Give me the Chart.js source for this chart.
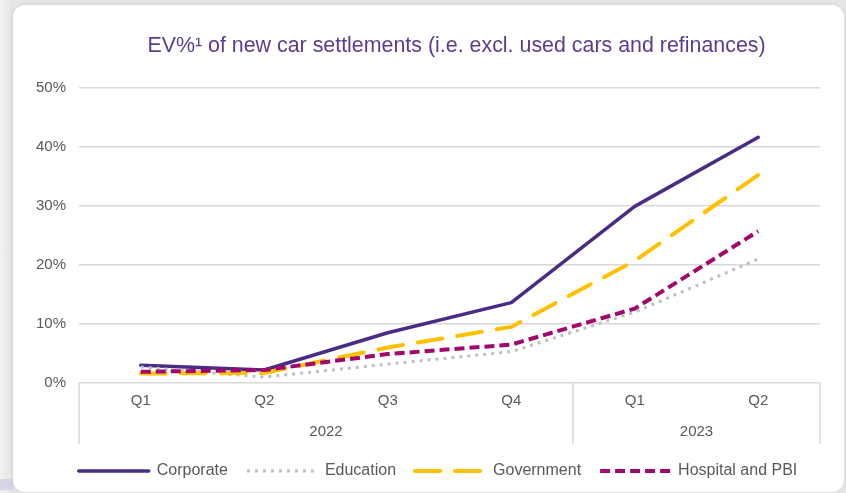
<!DOCTYPE html>
<html>
<head>
<meta charset="utf-8">
<script src="https://cdn.jsdelivr.net/npm/chart.js@4.4.1/dist/chart.umd.min.js"></script>
<style>
  html, body { margin: 0; padding: 0; }
  body { width: 846px; height: 493px; position: relative; overflow: hidden; background: #e6e6e6; }
  #strip { position: absolute; left: 0; top: 0; width: 14px; height: 493px; background: linear-gradient(to right, #f2f2f2, #e2e2e2); }
  #patch { position: absolute; left: 0; top: 479px; width: 13px; height: 11px; background: #d9d3e7; }
  #card { position: absolute; left: 13px; top: 5px; width: 831px; height: 487px; border-radius: 12px; background: #ffffff; box-shadow: 0 0 4px rgba(0,0,0,0.10); }
  #c { position: absolute; left: 0; top: 0; }
</style>
</head>
<body>
<div id="strip"></div>
<div id="patch"></div>
<div id="card"></div>
<canvas id="c" width="846" height="493"></canvas>
<script>
const quarters = ['Q1', 'Q2', 'Q3', 'Q4', 'Q1', 'Q2'];
const years = ['2022', '2022', '2022', '2022', '2023', '2023'];
const corporate = [3.0, 2.2, 8.5, 13.6, 29.9, 41.6];
const education = [2.7, 1.0, 3.2, 5.3, 12.0, 21.0];
const government = [1.6, 1.7, 6.0, 9.5, 20.7, 35.2];
const hospital = [1.9, 2.2, 4.9, 6.5, 12.6, 25.7];
const yMin = 0, yMax = 50, yStep = 10;

const FONT = '"Liberation Sans", Arial, sans-serif';
const TICK = '#595959';
const GRID = '#d9d9d9';

const yearGroups = {
  id: 'yearGroups',
  afterLayout(chart) {
    if (chart.titleBlock) { chart.titleBlock.left += 7; chart.titleBlock.right += 7; }
  },
  afterDraw(chart) {
    const x = chart.scales.x;
    const area = chart.chartArea;
    const ctx = chart.ctx;
    const half = (x.getPixelForValue(1) - x.getPixelForValue(0)) / 2;
    const top = area.bottom;
    const bottom = area.bottom + 61;
    ctx.save();
    ctx.strokeStyle = GRID;
    ctx.lineWidth = 1.5;
    ctx.fillStyle = TICK;
    ctx.font = '15px ' + FONT;
    ctx.textAlign = 'center';
    ctx.textBaseline = 'middle';
    let start = 0;
    const vline = (px) => { ctx.beginPath(); ctx.moveTo(px, top); ctx.lineTo(px, bottom); ctx.stroke(); };
    vline(x.getPixelForValue(0) - half);
    for (let i = 1; i <= years.length; i++) {
      if (i === years.length || years[i] !== years[start]) {
        const l = x.getPixelForValue(start) - half;
        const r = x.getPixelForValue(i - 1) + half;
        vline(r);
        ctx.fillText(years[start], (l + r) / 2, area.bottom + 49);
        start = i;
      }
    }
    ctx.restore();
  }
};

const datasets = [
  { label: 'Corporate', data: corporate, borderColor: '#4b2c85', borderWidth: 3.5, borderDash: [], borderCapStyle: 'round', order: 4 },
  { label: 'Education', data: education, borderColor: '#bfbfbf', borderWidth: 3, borderDash: [3, 5], borderCapStyle: 'butt', order: 3 },
  { label: 'Government', data: government, borderColor: '#ffc000', borderWidth: 4, borderDash: [25, 15], borderCapStyle: 'round', order: 2 },
  { label: 'Hospital and PBI', data: hospital, borderColor: '#a0086e', borderWidth: 4, borderDash: [10, 5], borderCapStyle: 'butt', order: 1 }
];
datasets.forEach(d => { d.backgroundColor = 'transparent'; d.pointRadius = 0; d.pointHoverRadius = 0; d.tension = 0; d.fill = false; d.borderJoinStyle = 'round'; });

new Chart(document.getElementById('c'), {
  type: 'line',
  data: { labels: quarters, datasets },
  plugins: [yearGroups],
  options: {
    responsive: false,
    animation: false,
    events: [],
    layout: { padding: { left: 30, right: 0, top: 0, bottom: 4 } },
    plugins: {
      tooltip: { enabled: false },
      title: {
        display: true,
        fullSize: false,
        text: 'EV%¹ of new car settlements (i.e. excl. used cars and refinances)',
        color: '#5c3c92',
        font: { family: FONT, size: 21.4, weight: 'normal' },
        padding: { top: 33, bottom: 29 }
      },
      legend: {
        position: 'bottom',
        align: 'center',
        labels: {
          color: TICK,
          font: { family: FONT, size: 16 },
          padding: 19,
          usePointStyle: true,
          pointStyle: 'line',
          pointStyleWidth: 70,
          boxHeight: 4,
          sort: (a, b) => a.datasetIndex - b.datasetIndex,
          generateLabels(chart) {
            const items = Chart.defaults.plugins.legend.labels.generateLabels(chart);
            items.forEach(it => {
              const d = chart.data.datasets[it.datasetIndex];
              it.lineDash = d.borderDash;
              it.lineWidth = d.borderWidth;
              it.strokeStyle = d.borderColor;
              it.fillStyle = 'transparent';
              it.lineCap = d.borderCapStyle;
              it.pointStyle = 'line';
            });
            return items;
          }
        }
      }
    },
    scales: {
      x: {
        offset: true,
        grid: { display: false, drawTicks: false, offset: true },
        border: { display: false },
        ticks: { color: TICK, font: { family: FONT, size: 15 }, padding: 9, maxRotation: 0, autoSkip: false },
        afterFit(s) { s.height = 61; }
      },
      y: {
        min: yMin, max: yMax,
        grid: { color: GRID, lineWidth: 1.5, drawTicks: false },
        border: { display: false },
        ticks: { stepSize: yStep, color: TICK, font: { family: FONT, size: 15 }, padding: 13, callback: v => v + '%' },
        afterFit(s) { s.width = 49; }
      },
      y2: {
        position: 'right',
        display: true,
        min: 0, max: 1,
        grid: { display: false, drawTicks: false },
        border: { display: false },
        ticks: { display: false },
        afterFit(s) { s.width = 26; }
      }
    }
  }
});
</script>
</body>
</html>
